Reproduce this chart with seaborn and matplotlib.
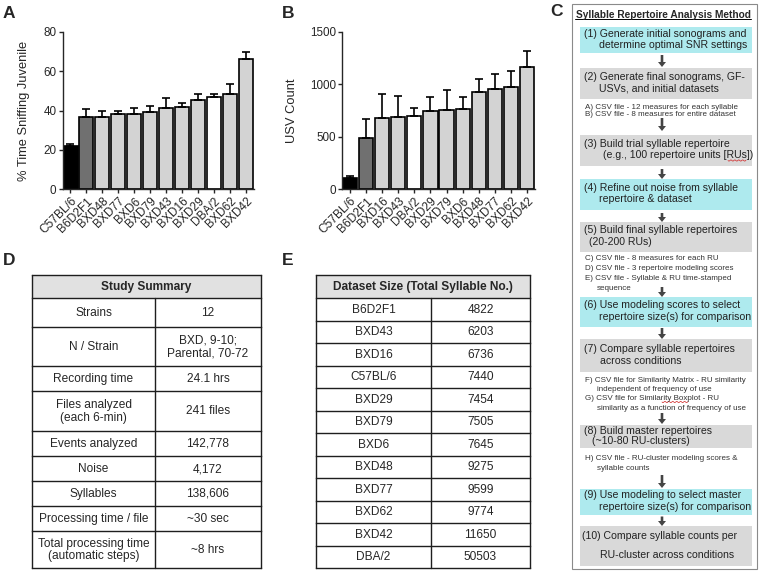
import matplotlib
matplotlib.use("Agg")
import matplotlib.pyplot as plt
from matplotlib.patches import Rectangle
import seaborn as sns
import numpy as np
import pandas as pd

# A - social interaction
strains_a = ["C57BL/6", "B6D2F1", "BXD48", "BXD77", "BXD6", "BXD79",
             "BXD43", "BXD16", "BXD29", "DBA/2", "BXD62", "BXD42"]
sniff_mean = [22.0, 36.5, 36.8, 38.0, 38.4, 39.3, 41.1, 41.9, 45.3, 46.8, 48.2, 66.0]
sniff_sem = [1.0, 4.1, 3.1, 1.8, 3.0, 3.0, 5.4, 2.1, 2.9, 1.7, 5.2, 3.8]

# B - USV count
strains_b = ["C57BL/6", "B6D2F1", "BXD16", "BXD43", "DBA/2", "BXD29",
             "BXD79", "BXD6", "BXD48", "BXD77", "BXD62", "BXD42"]
usv_mean = [108, 484, 675, 691, 700, 745, 752, 767, 927, 958, 977, 1168]
usv_sem = [19, 182, 230, 200, 74, 137, 194, 109, 124, 141, 148, 150]

# C - method flowchart
steps = [
    ["(1) Generate initial sonograms and", "determine optimal SNR settings"],
    ["(2) Generate final sonograms, GF-", "USVs, and initial datasets"],
    ["(3) Build trial syllable repertoire", "(e.g., 100 repertoire units [RUs])"],
    ["(4) Refine out noise from syllable", "repertoire & dataset"],
    ["(5) Build final syllable repertoires", "(20-200 RUs)"],
    ["(6) Use modeling scores to select", "repertoire size(s) for comparison"],
    ["(7) Compare syllable repertoires", "across conditions"],
    ["(8) Build master repertoires", "(~10-80 RU-clusters)"],
    ["(9) Use modeling to select master", "repertoire size(s) for comparison"],
    ["(10) Compare syllable counts per", "RU-cluster across conditions"],
]
step_highlight = [True, False, False, True, False, True, False, False, True, False]
notes = [
    ["A) CSV file - 12 measures for each syllable",
     "B) CSV file - 8 measures for entire dataset"],
    ["C) CSV file - 8 measures for each RU",
     "D) CSV file - 3 repertoire modeling scores",
     "E) CSV file - Syllable & RU time-stamped",
     "    sequence"],
    ["F) CSV file for Similarity Matrix - RU similarity",
     "    independent of frequency of use",
     "G) CSV file for Similarity Boxplot - RU",
     "    similarity as a function of frequency of use"],
    ["H) CSV file - RU-cluster modeling scores &",
     "    syllable counts"],
]

# D - study summary
summary_labels = ["Strains", "N / Strain", "Recording time",
                  "Files analyzed\n(each 6-min)", "Events analyzed", "Noise",
                  "Syllables", "Processing time / file",
                  "Total processing time\n(automatic steps)"]
summary_values = ["12", "BXD, 9-10;\nParental, 70-72", "24.1 hrs", "241 files",
                  "142,778", "4,172", "138,606", "~30 sec", "~8 hrs"]

# E - dataset size
dataset_strains = ["B6D2F1", "BXD43", "BXD16", "C57BL/6", "BXD29", "BXD79",
                   "BXD6", "BXD48", "BXD77", "BXD62", "BXD42", "DBA/2"]
dataset_sizes = [4822, 6203, 6736, 7440, 7454, 7505, 7645, 9275, 9599, 9774, 11650, 50503]

sns.set_theme(style="ticks")
plt.rcParams["font.family"] = ["Liberation Sans", "DejaVu Sans"]

W, H = 762, 576
fig = plt.figure(figsize=(W / 100, H / 100), dpi=100)

strain_colors = {"C57BL/6": "#000000", "B6D2F1": "#707070", "DBA/2": "#ffffff"}
bar_gray = "#d3d3d3"


def px_axes(left, top, width, height):
    return fig.add_axes([left / W, 1 - (top + height) / H, width / W, height / H])


def bar_panel(ax, strains, means, sems, ymax, yticks, ylabel, label_x):
    df = pd.DataFrame({"strain": strains, "value": means})
    pal = {s: strain_colors.get(s, bar_gray) for s in strains}
    sns.barplot(data=df, x="strain", y="value", hue="strain", palette=pal,
                legend=False, width=0.88, edgecolor="black", linewidth=1.2,
                errorbar=None, saturation=1, ax=ax)
    x = np.arange(len(strains))
    ax.errorbar(x, means, yerr=[np.zeros(len(sems)), sems], fmt="none",
                ecolor="black", elinewidth=1.2, capsize=2.8, capthick=1.2)
    ax.set_xlim(-0.5, len(strains) - 0.5)
    ax.set_ylim(0, ymax)
    ax.set_yticks(yticks)
    ax.set_xlabel("")
    ax.set_ylabel(ylabel, fontsize=9.3)
    ax.yaxis.set_label_coords(label_x, 0.5)
    ax.tick_params(axis="both", direction="out", length=3, width=1, pad=1.5)
    ax.tick_params(axis="y", labelsize=8.4)
    ax.tick_params(axis="x", labelsize=8.6)
    plt.setp(ax.get_xticklabels(), rotation=45, ha="right", rotation_mode="anchor")
    for s in ax.spines.values():
        s.set_linewidth(1)
    ax.set_facecolor("none")
    sns.despine(ax=ax)


ax_a = px_axes(62.5, 32, 191.5, 157)
bar_panel(ax_a, strains_a, sniff_mean, sniff_sem, 80, [0, 20, 40, 60, 80],
          "% Time Sniffing Juvenile", -0.17)

ax_b = px_axes(342, 32, 193, 157)
bar_panel(ax_b, strains_b, usv_mean, usv_sem, 1500, [0, 500, 1000, 1500],
          "USV Count", -0.228)

# drawing canvas in pixel units for the tables and the flowchart
cv = fig.add_axes([0, 0, 1, 1], zorder=-1)
cv.set_xlim(0, W)
cv.set_ylim(H, 0)
cv.axis("off")

for letter, lx, ly in [("A", 3, 18.5), ("B", 282, 18.5), ("C", 550, 16.5),
                       ("D", 3, 265), ("E", 282, 265)]:
    cv.text(lx, ly, letter, fontsize=12.5, fontweight="bold", va="baseline", ha="left")

line_col = "#1e1e1e"
head_fill = "#e1e1e1"


def draw_table(x_edges, y_edges, header, rows):
    x0, xm, x1 = x_edges
    cv.add_patch(Rectangle((x0, y_edges[0]), x1 - x0, y_edges[1] - y_edges[0],
                           fc=head_fill, ec="none"))
    cv.text((x0 + x1) / 2, (y_edges[0] + y_edges[1]) / 2 + 0.5, header,
            fontsize=8.6, fontweight="bold", ha="center", va="center")
    for i, (a, b) in enumerate(rows):
        yc = (y_edges[i + 1] + y_edges[i + 2]) / 2 + 0.5
        cv.text((x0 + xm) / 2, yc, a, fontsize=8.6, ha="center", va="center", linespacing=1.1)
        cv.text((xm + x1) / 2, yc, b, fontsize=8.6, ha="center", va="center", linespacing=1.1)
    for y in y_edges:
        cv.plot([x0, x1], [y, y], color=line_col, lw=1.0, solid_capstyle="projecting")
    cv.plot([x0, x0], [y_edges[0], y_edges[-1]], color=line_col, lw=1.0)
    cv.plot([x1, x1], [y_edges[0], y_edges[-1]], color=line_col, lw=1.0)
    cv.plot([xm, xm], [y_edges[1], y_edges[-1]], color=line_col, lw=1.0)


d_rows = [275, 298, 327, 366, 391, 431, 456, 481, 506, 531, 568]
draw_table((32, 155, 261), d_rows, "Study Summary", list(zip(summary_labels, summary_values)))

e_rows = [275] + list(298 + 22.5 * np.arange(len(dataset_strains) + 1))
draw_table((316, 431, 530), e_rows, "Dataset Size (Total Syllable No.)",
           [(s, str(n)) for s, n in zip(dataset_strains, dataset_sizes)])

# flowchart
cv.add_patch(Rectangle((572, 4), 185, 565, fc="white", ec="#8a8a8a", lw=0.8))
cv.text(663, 14.5, "Syllable Repertoire Analysis Method", fontsize=7.3,
        fontweight="bold", ha="center", va="center")
cv.plot([575, 751], [19, 19], color="black", lw=0.7)

box_y = [(27, 53, 11), (68, 99, 11), (135, 166, 11), (179, 210, 11.5), (222, 252, 11.5),
         (297, 327, 11.5), (339, 372, 12.3), (425, 448, 10), (489, 515, 11.5), (526, 566, 19)]
box_indent = [599, 599, 603, 599, 589, 599, 600, 592, 599, 600]
cyan = "#aeeaee"
gray = "#d9d9d9"
for (top, bot, sp), ind, lines, hl in zip(box_y, box_indent, steps, step_highlight):
    cv.add_patch(Rectangle((580, top), 172, bot - top, fc=cyan if hl else gray, ec="none"))
    yc = (top + bot) / 2 - 0.8
    cv.text(582 if lines[0].startswith("(10)") else 584, yc - sp / 2, lines[0],
            fontsize=7.6, color="#222222", ha="left", va="center")
    cv.text(ind, yc + sp / 2, lines[1], fontsize=7.6, color="#222222", ha="left", va="center")

# spell-check squiggles visible in the source figure
for sx0, sx1, sy in [(728, 746, 160.5), (662, 688, 402)]:
    xs = np.linspace(sx0, sx1, 40)
    cv.plot(xs, sy + 0.6 * np.sin((xs - sx0) * 1.6), color="#d02020", lw=0.5)

note_y = [(107.5, 7.4), (259, 9.7), (380, 9.4), (458, 10)]
for (y0, sp), group in zip(note_y, notes):
    for k, t in enumerate(group):
        tx = 597 if t.startswith("    ") else 585
        cv.text(tx, y0 + k * sp, t.strip(), fontsize=5.75, color="#333333",
                ha="left", va="center")

arrows = [(55, 67), (118, 131), (169, 179), (213, 222), (287, 297),
          (328, 339), (413, 424), (475, 488), (516.5, 526)]
for y0, y1 in arrows:
    cv.arrow(662, y0, 0, y1 - y0, width=2.6, head_width=8, head_length=5,
             length_includes_head=True, color="#444444", lw=0)

fig.savefig("out.png", dpi=100)
